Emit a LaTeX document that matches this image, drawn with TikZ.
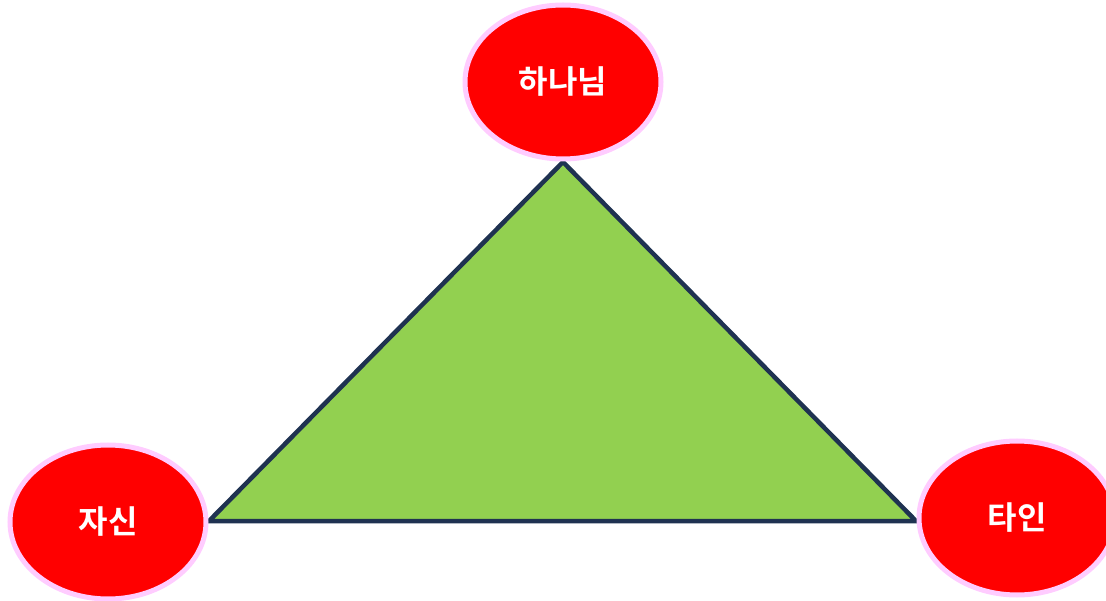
\documentclass[tikz,border=0pt]{standalone}
\usepackage{fontspec}
\newfontfamily\kr{Noto Sans CJK KR}[BoldFont={Noto Sans CJK KR Bold}]
\usetikzlibrary{shapes.geometric}
\definecolor{tri}{HTML}{92D050}
\definecolor{edge}{HTML}{1F3251}
\definecolor{pinkb}{HTML}{FFCCFF}
\tikzset{
  bubble/.style={ellipse, fill=red, draw=pinkb, line width=5pt,
    minimum width=196pt, minimum height=154pt, inner sep=0pt,
    text=white, font=\kr\bfseries\fontsize{32}{38}\selectfont},
  trishape/.style={fill=tri, draw=edge, line width=4.5pt, line join=miter}
}
\begin{document}
\begin{tikzpicture}[x=1pt,y=-1pt]
\useasboundingbox (0,0) rectangle (1106,601);
\coordinate (apex) at (563,162);
\coordinate (bl) at (209,521);
\coordinate (br) at (916,521);
\draw[trishape] (apex) -- (bl) -- (br) -- cycle;
\node[bubble] (god) at (563,82) {하나님};
\node[bubble] (self) at (108,522) {자신};
\node[bubble] (other) at (1017,518) {타인};
\end{tikzpicture}
\end{document}
